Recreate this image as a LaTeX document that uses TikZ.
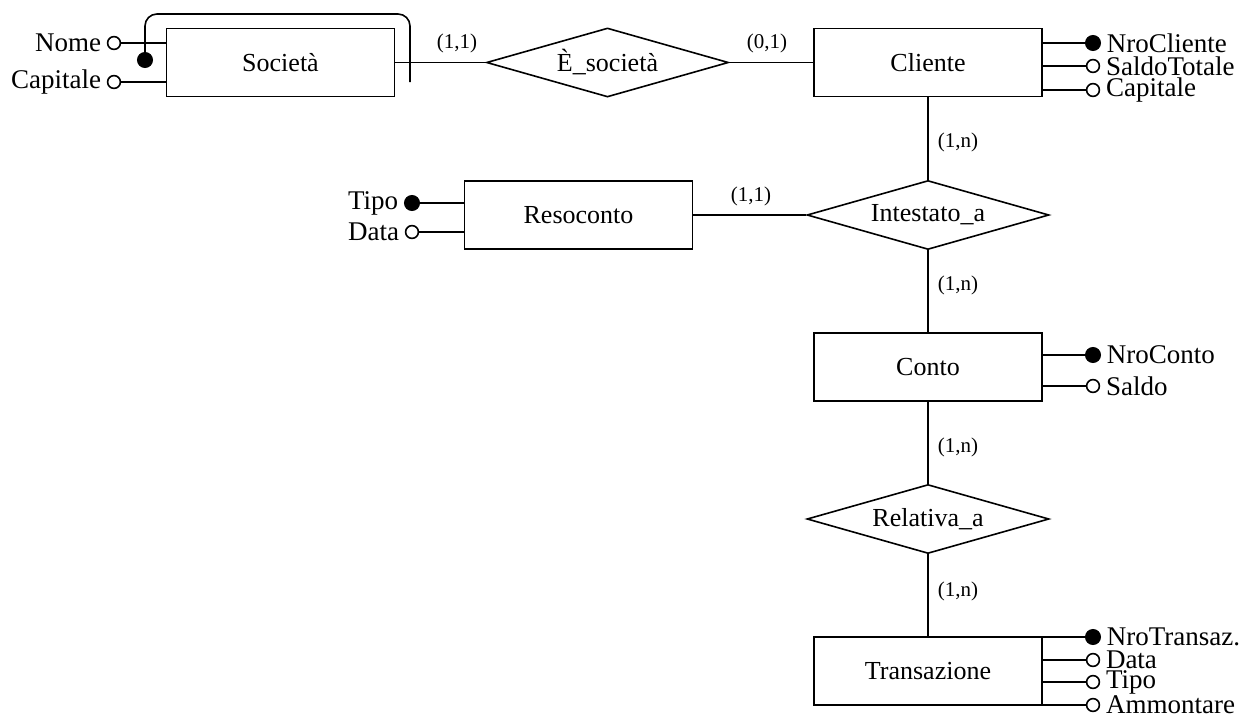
\documentclass[tikz,border=0pt]{standalone}
\usepackage{fontspec}
\setmainfont{Liberation Serif}
\usetikzlibrary{shapes.geometric}
\tikzset{
	entity/.style={draw, minimum width=114pt, minimum height=34pt, font=\fontsize{13}{15}\selectfont},
	relation/.style={draw, diamond, aspect=3.5, inner sep=0pt, minimum width=121pt, minimum height=34.5pt, font=\fontsize{13}{15}\selectfont},
	attr/.style={draw, circle, fill=white, inner sep=0pt, minimum size=6.4pt},
	keyattr/.style={attr, fill=black, minimum size=7.2pt},
	card/.style={font=\fontsize{10.5}{12}\selectfont},
	every label/.style={inner sep=2.5pt, font=\fontsize{13.5}{15}\selectfont}
}
\begin{document}
\begin{tikzpicture}[x=0.5pt, y=-0.5pt, line width=0.8pt]
	\useasboundingbox (0,0) rectangle (1243,713);
	
	\node[entity] (societa) at (280.5,62.5) {Società};
	\node[entity] (cliente) at (928,62.5) {Cliente};
	\node[entity] (resoconto) at (578.5,215) {Resoconto};
	\node[entity] (conto) at (928,367) {Conto};
	\node[entity] (transazione) at (928,671) {Transazione};
	
	\node[relation] (esocieta) at (607.5,62.5) {È\_società};
	\node[relation] (intestato) at (928,215) {Intestato\_a};
	\node[relation] (relativa) at (928,519) {Relativa\_a};
	
	\draw (societa) -- (esocieta) -- (cliente);
	\draw (resoconto) -- (intestato);
	\draw (cliente) -- (intestato) -- (conto) -- (relativa) -- (transazione);
	
	\node[card] (c1) at (457,43) {(1,1)};
	\node[card] (c2) at (767,43) {(0,1)};
	\node[card] (c3) at (751,196) {(1,1)};
	\node[card] (c4) at (958,142) {(1,n)};
	\node[card] (c5) at (958,285) {(1,n)};
	\node[card] (c6) at (958,447) {(1,n)};
	\node[card] (c7) at (958,591) {(1,n)};
	
	% Società
	\node[attr, label=left:Nome] (nome) at (114,43) {};
	\node[attr, label=left:Capitale] (capsoc) at (114,82) {};
	\draw (nome) -- (societa.west |- nome);
	\draw (capsoc) -- (societa.west |- capsoc);
	\coordinate (idtop) at (410,14);
	\coordinate (idend) at (410,82);
	\node[keyattr] (idsoc) at (145,60) {};
	\draw[rounded corners=6pt] (idsoc) |- (idtop) -- (idend);
	
	% Cliente
	\node[keyattr, label=right:NroCliente] (nrocli) at (1093,43) {};
	\node[attr, label=right:SaldoTotale] (saldotot) at (1093,66) {};
	\node[attr, label=right:Capitale] (capcli) at (1093,90) {};
	\foreach \a in {nrocli,saldotot,capcli}
		\draw (cliente.east |- \a) -- (\a);
	
	% Resoconto
	\node[keyattr, label=left:Tipo] (tiporeso) at (412,203) {};
	\node[attr, label=left:Data] (datareso) at (412,232) {};
	\foreach \a in {tiporeso,datareso}
		\draw (\a) -- (resoconto.west |- \a);
	
	% Conto
	\node[keyattr, label=right:NroConto] (nroconto) at (1093,355) {};
	\node[attr, label=right:Saldo] (saldo) at (1093,386) {};
	\foreach \a in {nroconto,saldo}
		\draw (conto.east |- \a) -- (\a);
	
	% Transazione
	\node[keyattr, label=right:NroTransaz.] (nrotrans) at (1093,637) {};
	\node[attr, label=right:Data] (datatrans) at (1093,660) {};
	\node[attr, label=right:Tipo] (tipotrans) at (1093,682) {};
	\node[attr, label=right:Ammontare] (ammontare) at (1093,705) {};
	\foreach \a in {nrotrans,datatrans,tipotrans,ammontare}
		\draw (transazione.east |- \a) -- (\a);
\end{tikzpicture}
\end{document}
